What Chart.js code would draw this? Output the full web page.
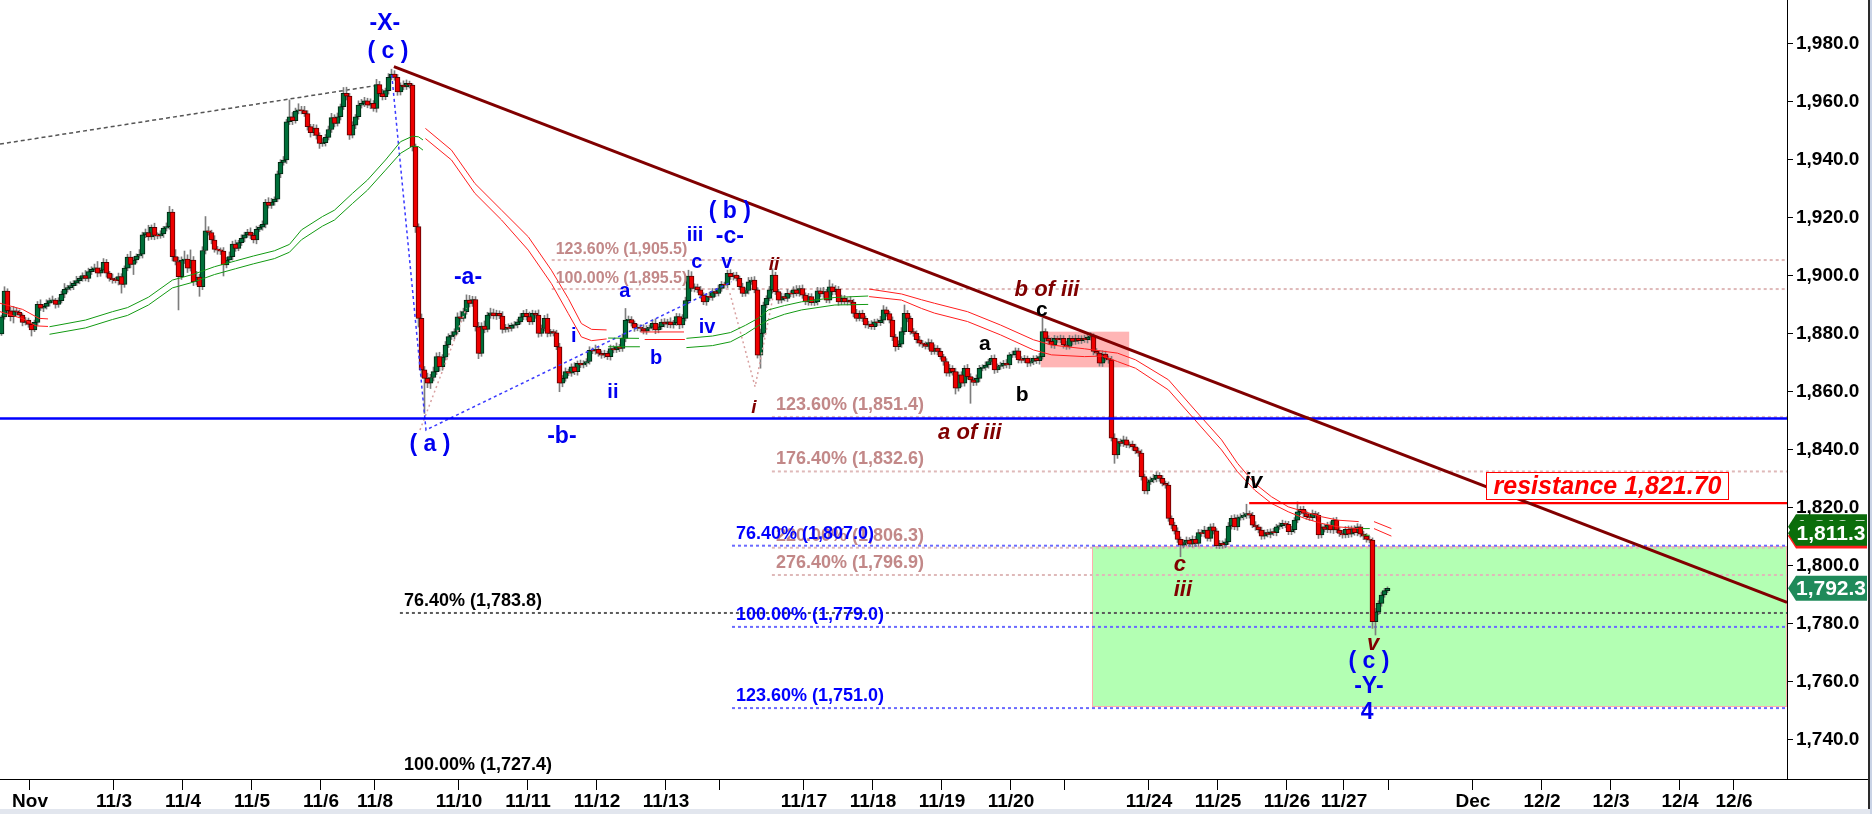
<!DOCTYPE html>
<html><head><meta charset="utf-8">
<style>html,body{margin:0;padding:0;background:#fff;overflow:hidden}canvas{display:block}</style>
<script src="https://cdn.jsdelivr.net/npm/chart.js@4/dist/chart.umd.min.js"></script>
</head><body>
<canvas id="c" width="1872" height="814" style="width:1872px;height:814px"></canvas>
<script>
// ---------- DATA (hourly gold candles, index = bar number) ----------
const FIRST_OPEN = 1880.0;
const closes = [
1885.9,1894.8,1888.0,1886.0,1888.0,1887.5,1886.5,1884.0,1884.8,1883.3,
1881.4,1884.0,1890.2,1888.9,1889.5,1890.6,1891.5,1891.7,1890.2,1891.5,
1893.7,1895.4,1896.0,1896.7,1897.5,1898.4,1899.2,1900.1,1899.2,1901.5,
1902.3,1902.8,1901.0,1902.0,1904.7,1901.0,1899.2,1898.7,1898.4,1899.8,
1897.1,1902.7,1906.5,1904.0,1905.5,1906.9,1907.5,1914.2,1915.0,1913.5,
1916.8,1914.0,1913.8,1914.5,1916.5,1917.0,1922.0,1906.7,1905.0,1899.8,
1905.5,1905.8,1902.7,1905.5,1898.0,1899.6,1896.3,1908.8,1915.6,1915.0,
1912.4,1909.2,1909.0,1908.6,1903.8,1905.5,1906.7,1911.0,1909.5,1911.5,
1913.0,1914.2,1915.1,1914.0,1912.4,1916.1,1916.8,1917.8,1925.4,1924.3,
1925.5,1926.5,1935.2,1939.2,1940.0,1953.2,1954.9,1953.6,1956.9,1957.3,
1957.0,1956.0,1951.5,1949.4,1951.0,1948.5,1945.7,1946.0,1947.8,1950.5,
1954.6,1952.6,1954.9,1958.4,1963.0,1962.0,1948.6,1952.0,1954.9,1958.9,
1959.5,1960.4,1958.9,1959.5,1957.8,1966.0,1962.9,1961.8,1963.9,1968.5,
1969.6,1968.5,1963.5,1965.8,1965.2,1966.4,1965.8,1944.6,1917.0,1885.4,
1867.6,1864.7,1863.0,1865.0,1867.0,1872.2,1868.7,1872.0,1876.2,1879.1,
1879.5,1880.8,1885.9,1885.4,1887.7,1891.7,1890.5,1891.9,1882.5,1873.3,
1882.7,1881.6,1886.5,1887.3,1886.2,1887.1,1886.2,1881.6,1882.3,1881.9,
1883.0,1883.2,1884.2,1885.9,1887.1,1886.0,1884.2,1887.1,1886.5,1880.2,
1881.9,1885.4,1880.2,1880.8,1880.4,1875.6,1863.0,1864.7,1867.0,1866.5,
1868.7,1867.0,1869.9,1869.3,1869.9,1870.5,1874.4,1874.2,1874.7,1873.3,
1872.7,1873.3,1872.2,1875.0,1874.5,1875.6,1875.0,1878.5,1884.8,1885.0,
1883.7,1882.0,1882.3,1881.9,1881.0,1881.9,1882.3,1883.7,1881.4,1882.5,
1884.1,1883.4,1884.2,1883.1,1883.9,1886.0,1883.1,1885.4,1891.5,1900.0,
1895.7,1896.3,1895.2,1893.4,1891.1,1893.0,1892.6,1894.6,1894.0,1895.7,
1897.1,1896.9,1900.9,1899.8,1900.3,1899.2,1896.3,1894.0,1895.0,1898.0,
1898.6,1895.2,1872.7,1880.2,1890.0,1892.3,1895.2,1900.3,1894.6,1891.7,
1892.9,1892.3,1894.0,1893.8,1895.2,1894.0,1895.7,1893.4,1891.1,1892.9,
1890.8,1891.1,1894.9,1893.8,1894.6,1891.7,1896.3,1894.6,1895.5,1891.1,
1892.3,1891.1,1891.7,1891.0,1887.1,1885.4,1887.1,1885.4,1883.1,1883.4,
1882.5,1884.2,1883.9,1884.8,1888.3,1887.0,1884.8,1879.0,1875.6,1876.5,
1880.8,1887.1,1885.4,1880.8,1880.2,1878.0,1876.8,1876.5,1875.7,1877.0,
1874.0,1875.1,1874.0,1872.2,1870.5,1866.5,1868.2,1867.0,1861.3,1865.9,
1863.0,1868.2,1865.3,1864.2,1863.3,1864.7,1868.2,1868.5,1869.3,1870.5,
1871.6,1867.6,1868.8,1869.2,1869.9,1869.3,1872.8,1872.9,1874.2,1871.1,
1871.0,1871.6,1869.9,1870.5,1871.6,1870.8,1872.2,1880.8,1878.5,1877.5,
1876.2,1878.5,1878.0,1878.5,1876.2,1875.7,1878.5,1877.4,1878.5,1877.7,
1878.5,1878.0,1878.9,1879.3,1874.0,1873.4,1869.9,1873.1,1871.6,1871.1,
1844.1,1838.3,1842.9,1842.3,1843.5,1841.7,1842.0,1841.1,1839.7,1838.9,
1830.8,1825.9,1829.0,1829.7,1830.2,1831.3,1830.2,1828.5,1827.9,1816.4,
1814.1,1812.0,1809.2,1807.2,1808.1,1808.9,1807.5,1809.2,1807.8,1811.5,
1811.2,1812.4,1809.5,1813.5,1812.1,1807.0,1807.8,1807.3,1808.3,1813.8,
1816.4,1813.5,1816.7,1816.9,1817.5,1818.1,1817.5,1814.1,1813.5,1812.4,
1810.3,1811.5,1810.9,1811.8,1811.5,1813.5,1813.9,1814.7,1814.4,1811.8,
1812.5,1815.8,1818.7,1819.5,1818.1,1817.0,1816.7,1818.1,1817.5,1810.7,
1813.5,1812.6,1814.1,1812.4,1815.8,1812.4,1811.2,1810.7,1812.6,1811.0,
1812.9,1811.5,1813.5,1811.0,1810.3,1809.2,1808.9,1780.8,1784.2,1787.1,
1790.0,1791.5,1792.3];
// wick lengths above / below the candle body (price units)
const upWick = [
0.6,1.5,0.8,1.2,1.5,1.0,0.8,0.5,0.9,0.7, 0.5,0.8,1.0,1.6,0.7,1.2,0.9,1.4,0.6,1.0,
1.1,2.0,0.8,1.3,0.9,1.5,0.7,1.0,1.8,1.2, 0.9,1.3,2.2,0.8,1.3,1.0,0.6,1.5,0.9,1.2,
1.0,0.8,1.0,2.0,1.1,0.7,1.6,0.9,1.2,2.5, 0.8,1.4,0.9,1.1,0.6,1.3,2.0,1.0,2.4,1.5,
1.1,2.8,1.5,3.5,1.2,2.0,1.0,1.3,4.9,1.4, 0.8,1.5,1.0,0.7,1.2,0.9,1.6,1.0,1.4,0.8,
1.2,0.9,1.0,1.5,0.8,1.1,0.7,1.2,1.0,1.6, 1.3,0.8,1.0,0.9,1.2,0.8,5.8,1.5,1.0,2.1,
1.2,1.5,1.0,0.8,1.3,1.1,0.9,1.4,1.0,1.2, 1.5,1.0,1.3,0.9,2.0,2.1,1.0,1.2,0.8,1.5,
1.4,1.2,0.9,1.6,1.0,1.8,1.1,1.5,0.9,1.3, 1.7,1.2,1.0,0.8,1.5,1.2,0.8,0.5,0.9,1.0,
1.5,1.2,1.8,1.1,1.6,1.3,1.5,0.9,1.2,1.0, 1.3,1.0,1.4,2.0,1.2,1.8,1.6,1.1,1.0,1.5,
1.2,1.8,1.0,1.6,1.3,1.1,0.9,1.5,1.0,1.2, 0.8,1.1,0.9,1.2,1.0,1.4,1.6,1.1,0.9,1.8,
1.2,1.0,1.5,0.8,0.7,0.9,1.2,1.0,1.3,0.9, 1.0,1.4,0.8,1.1,0.9,1.0,1.2,0.8,1.5,1.0,
0.9,1.1,0.8,1.2,1.0,1.3,0.8,1.5,4.0,1.2, 1.0,0.8,1.1,0.9,1.3,1.0,0.8,1.2,1.5,0.9,
1.0,1.2,0.9,1.4,0.8,1.1,1.0,1.3,1.2,2.0, 1.5,1.0,0.9,1.2,0.8,1.0,1.4,1.1,0.9,1.2,
1.0,0.8,1.1,1.3,0.9,1.0,0.8,1.2,0.9,1.5, 1.0,1.2,0.8,1.5,1.0,0.9,1.2,2.2,1.0,0.8,
1.2,1.0,1.4,0.9,1.1,1.5,1.0,1.2,0.8,1.1, 1.0,0.9,1.2,1.0,1.5,0.8,2.3,1.0,1.2,0.9,
1.1,1.0,0.8,1.2,1.0,1.4,0.9,1.1,0.8,1.0, 1.2,0.9,1.0,1.3,1.5,1.0,0.8,1.1,0.9,1.2,
1.4,2.9,1.0,0.8,1.1,0.9,1.2,1.0,0.8,1.3, 1.0,1.2,0.9,1.1,0.8,1.0,1.3,0.9,1.2,1.0,
1.1,0.9,1.3,1.0,0.8,1.2,1.0,0.9,1.1,0.8, 1.0,1.2,0.9,1.1,1.0,1.3,0.8,1.2,1.0,0.9,
1.1,1.0,0.8,1.2,0.9,1.0,1.1,4.6,1.0,0.9, 1.2,1.0,0.8,1.1,0.9,1.3,1.0,0.8,1.2,1.0,
0.9,1.1,1.0,1.2,0.8,1.0,0.9,1.1,1.0,0.8, 1.2,1.5,1.0,0.9,1.3,1.0,0.8,1.1,0.9,1.0,
1.2,0.9,1.1,1.0,1.4,1.2,0.9,1.0,0.8,1.1, 0.9,1.0,1.2,0.8,1.0,1.1,0.9,1.2,1.0,1.1,
1.0,1.3,0.9,1.0,1.2,0.8,1.0,0.9,1.1,1.2, 1.0,1.3,0.9,1.1,1.0,3.2,0.9,1.0,1.2,0.8,
1.0,0.9,1.1,1.0,1.2,0.9,1.0,1.1,0.8,1.0, 1.2,0.9,3.4,1.0,1.1,0.9,1.0,1.2,0.8,1.0,
1.1,0.9,1.0,1.2,0.8,1.0,0.9,1.1,1.0,1.2, 0.9,1.0,1.1,0.8,1.0,0.9,1.0,0.8,1.2,0.9,
1.0,0.8,0.5];
const dnWick = [
0.5,0.8,1.0,1.5,2.2,1.0,0.8,1.2,0.9,1.0, 2.1,0.6,1.0,0.8,1.2,0.9,1.0,0.7,1.3,1.0,
0.8,1.2,1.0,0.9,1.4,0.8,1.1,1.0,0.9,1.2, 1.0,0.8,1.3,1.1,0.9,1.4,1.0,1.2,0.8,1.5,
3.0,1.0,0.9,1.2,3.5,1.0,0.8,1.3,1.0,1.2, 0.9,1.5,1.0,0.8,1.2,1.0,0.9,1.5,1.2,11.5,
1.0,1.2,1.5,1.0,1.3,1.1,3.3,1.0,1.2,0.9, 1.3,1.0,1.5,1.2,3.8,1.0,0.9,1.2,1.0,0.8,
1.0,1.2,0.9,1.1,1.0,1.3,0.8,1.0,1.2,0.9, 1.0,1.1,0.9,1.3,1.0,1.2,1.0,1.4,0.9,1.0,
1.1,1.0,1.2,1.5,1.0,1.3,1.7,1.0,1.2,0.9, 1.0,1.2,0.9,1.1,1.0,1.3,1.5,1.0,1.2,0.9,
1.0,1.1,0.9,1.2,1.0,1.3,0.9,1.1,1.0,1.2, 0.9,1.0,1.2,1.1,1.0,0.9,1.0,1.5,2.0,3.0,
2.5,12.1,1.5,1.8,1.2,1.0,1.5,1.2,1.0,0.9, 1.0,1.2,0.8,1.1,1.0,0.9,1.2,1.0,1.5,1.8,
1.0,1.2,0.9,1.1,1.0,1.2,0.9,1.3,1.0,1.2, 0.9,1.0,1.1,0.8,1.0,1.2,1.0,0.9,1.1,1.3,
1.0,0.9,1.2,1.0,1.1,1.0,2.9,1.2,1.0,0.9, 1.1,1.0,1.2,0.9,1.0,1.1,0.9,1.0,1.2,1.0,
1.1,0.9,1.0,1.2,1.0,0.9,1.1,1.0,1.2,0.9, 1.0,1.1,0.9,1.2,1.0,1.1,0.9,1.0,1.3,1.0,
0.9,1.0,1.2,1.0,1.1,0.9,1.3,1.0,0.9,1.1, 1.0,1.2,0.9,1.1,1.0,1.2,0.9,1.0,1.1,0.9,
1.0,1.1,0.9,1.0,1.2,0.9,1.0,1.1,1.0,1.2, 0.9,1.0,1.0,4.5,1.2,1.0,0.9,1.1,1.0,1.2,
1.0,0.9,1.1,1.0,1.2,0.9,1.0,1.1,1.0,1.2, 0.9,1.0,1.1,1.0,1.2,0.9,1.0,1.1,1.0,1.2,
1.0,0.9,1.1,1.0,1.2,1.0,0.9,1.1,1.0,1.2, 0.9,1.0,1.1,1.0,1.2,0.9,1.0,1.3,1.5,1.0,
1.1,1.0,1.2,0.9,1.0,1.1,1.0,1.2,0.9,1.0, 1.1,1.0,1.2,0.9,1.3,1.0,1.1,1.2,2.0,1.0,
1.2,1.0,0.9,8.1,1.1,1.0,1.2,0.9,1.0,1.1, 1.0,1.2,0.9,1.0,1.1,1.0,1.2,0.9,1.0,1.1,
1.0,0.9,1.2,1.0,1.1,1.0,1.2,0.9,1.0,1.1, 1.0,1.2,0.9,1.0,1.1,1.0,0.9,1.2,1.0,1.1,
1.0,0.9,1.1,1.0,1.2,0.9,1.0,1.1,1.0,1.2, 1.0,2.9,1.2,1.0,1.1,0.9,1.0,1.2,1.0,1.1,
1.2,1.0,1.1,0.9,1.0,1.2,1.0,0.9,1.1,1.0, 1.2,1.0,1.1,4.0,1.0,1.2,0.9,1.0,1.1,1.0,
1.0,1.2,0.9,1.0,1.1,0.9,1.0,1.2,1.0,0.9, 1.1,1.0,1.2,0.9,1.0,1.1,1.0,0.9,1.2,1.0,
1.1,1.0,0.9,1.2,1.0,1.1,0.9,1.0,1.2,1.0, 1.0,1.1,0.9,1.0,1.2,0.9,1.0,1.1,1.0,1.2,
1.0,0.9,1.1,1.0,1.2,0.9,1.0,1.1,1.0,1.2, 1.0,0.9,1.1,1.0,1.2,1.0,0.9,2.3,4.6,1.0,
1.0,0.8,0.7];

// x-axis ticks (bar-number positions of session starts) and their labels
const xTickPos = [9.5,37.5,60.5,83.5,106.5,124.5,152.5,175.5,198.5,221.5,239.5,267.5,290.5,313.5,336.5,354.5,382.5,405.5,428.5,447.5,462.5,490.5,513.5,536.5,559.5,577.5];
const xTickLabels = ['Nov','11/3','11/4','11/5','11/6','11/8','11/10','11/11','11/12','11/13','','11/17','11/18','11/19','11/20','','11/24','11/25','11/26','11/27','','Dec','12/2','12/3','12/4','12/6'];
const yTicks = [1740,1760,1780,1800,1820,1840,1860,1880,1900,1920,1940,1960,1980];
const X_MIN = -0.5, X_MAX = 595.17, Y_MIN = 1726.55, Y_MAX = 1995.17;

// trend bands (two-line envelope, red when bearish / green when bullish): [bar, price]
const bandR1Up = [[-0.5,1890.6],[7,1888.5],[12.5,1885.4],[15.5,1885.2]];
const bandR1Lo = [[-0.5,1887.7],[7,1885.3],[11.5,1882.8],[15.5,1882.6]];
const bandG1Up = [[16,1882.5],[28,1884.8],[37,1887.7],[42,1889.1],[49,1892.7],[57,1898.6],[64,1900.6],[71,1903.2],[78,1905.2],[84,1906.9],[91,1908.7],[96,1910.9],[100,1915.9],[107,1920.5],[111,1922.7],[117,1928.5],[122,1933.1],[128,1940.0],[133,1946.3],[137,1948.2],[139,1948.0],[140.5,1946.9]];
const bandG1Lo = [[16,1879.9],[28,1882.1],[37,1885.0],[42,1886.4],[49,1890.0],[57,1895.9],[64,1897.9],[71,1900.5],[78,1902.5],[84,1904.2],[91,1906.0],[96,1908.2],[100,1912.5],[107,1917.2],[111,1919.3],[117,1925.0],[122,1929.6],[128,1936.5],[133,1942.3],[137,1944.8],[139,1944.6],[140.5,1943.4]];
const bandR2Up = [[141.3,1950.9],[150,1943.4],[157.8,1931.9],[166.7,1922.7],[175.6,1913.5],[183.3,1902.0],[188.9,1892.3],[193.3,1883.6],[196.7,1881.6],[201.7,1881.4]];
const bandR2Lo = [[141.3,1947.4],[150,1940.0],[157.8,1928.5],[166.7,1919.3],[175.6,1908.9],[183.3,1897.4],[188.9,1887.1],[193.3,1879.0],[196.7,1877.7],[201.7,1878.3]];
const bandG2Up = [[202.2,1878.6],[212.5,1878.5]];
const bandG2Lo = [[202.2,1875.6],[212.8,1875.6]];
const bandR3Up = [[213.1,1880.7],[227.5,1880.7]];
const bandR3Lo = [[214.4,1878.1],[227.8,1878.1]];
const bandG3Up = [[228.3,1878.5],[237,1879.3],[243,1880.5],[248,1883.0],[252.2,1885.4],[255.6,1888.3],[261,1889.8],[266.7,1891.1],[277.8,1892.6],[288.9,1893.1]];
const bandG3Lo = [[228.3,1875.3],[237,1876.0],[243,1877.3],[248,1880.0],[252.2,1882.8],[255.6,1884.8],[261,1886.8],[266.7,1888.3],[277.8,1890.0],[288.9,1890.2]];
const bandR4Up = [[289.2,1895.5],[300,1893.8],[306.7,1891.8],[311,1890.6],[322,1887.7],[333,1883.1],[344,1878.0],[350,1876.2],[361,1874.9],[372,1873.4],[378,1871.1],[389,1864.2],[397.8,1853.8],[406.7,1843.5],[412,1835.4],[417.7,1828.5],[423.3,1823.9],[428.9,1820.4],[434.4,1818.7],[440,1817.0],[445.5,1815.8],[452.4,1815.3]];
const bandR4Lo = [[289.2,1892.9],[300,1891.7],[306.7,1888.8],[311,1887.2],[322,1884.3],[333,1879.7],[344,1874.5],[350,1872.8],[361,1872.2],[367,1872.4],[372,1870.5],[378,1868.2],[389,1860.7],[397.8,1850.4],[406.7,1840.0],[412,1832.5],[417.7,1826.2],[423.3,1821.6],[428.9,1818.7],[434.4,1816.4],[440,1814.7],[445.5,1813.5],[452.4,1812.9]];
const bandG4Up = [[453.3,1812.9],[456.1,1812.9]];
const bandG4Lo = [[454,1810.6],[456.1,1810.6]];
const bandR5Up = [[457.5,1815.3],[463.3,1812.9]];
const bandR5Lo = [[457.5,1812.9],[463.3,1810.3]];

// drawn lines: [bar, price]
const trendLine = [[130.8,1972.2],[595.17,1787.5]];
const oldTrend = [[-0.5,1945.5],[126.2,1965.9]];
const supportLevel = 1850.9;
const resLevel = 1821.7, resStartK = 415.9;
const resText = 'resistance 1,821.70';
const resBoxK = [494.8,575.8], resBoxV = [1822.8,1832.4];
const waveLineBlue = [[130.1,1969.3],[141.5,1846.9],[243.4,1898.0]];
const waveLinePinkA = [[139.5,1846.9],[155,1889.0]];
const waveLinePinkB = [[242.8,1894.1],[251.2,1861.8],[257.2,1892.9]];

// fibonacci levels
const fibPinkLevels = [1905.5,1895.5,1851.4,1832.6,1806.3,1796.9];
const fibPinkLabels = ['123.60% (1,905.5)','100.00% (1,895.5)','123.60% (1,851.4)','176.40% (1,832.6)','220.00% (1,806.3)','276.40% (1,796.9)'];
const fibPinkStart = [183.4,183.4,256.8,256.8,256.8,256.8];
const fibBlueLevels = [1807.0,1779.0,1751.0];
const fibBlueLabels = ['76.40% (1,807.0)','100.00% (1,779.0)','123.60% (1,751.0)'];
const fibBlueStart = 243.5;
const fibBlackLevels = [1783.8,1727.4];
const fibBlackLabels = ['76.40% (1,783.8)','100.00% (1,727.4)'];
const fibBlackStart = 132.8;

// target zone and consolidation box
const zoneStartK = 363.5, zoneTop = 1807.0, zoneBottom = 1751.3;
const boxK = [346.4,375.9], boxV = [1868.5,1880.8];

// Elliott wave labels
const waveText = ['-X-','( c )','-a-','( a )','-b-','i','ii','a','b','iv','c','iii','v','-c-','( b )','ii','i','b of iii','a of iii','a','b','c','c','iii','iv','v','( c )','-Y-','4'];
const waveK = [127.8,128.8,155.5,142.8,186.8,190.8,203.8,207.8,218.2,235.2,231.8,231.2,241.8,242.8,242.8,257.5,250.8,348.5,322.8,327.8,340.2,346.8,392.8,393.8,417.2,457.2,455.8,455.8,455.2];
const waveV = [1986.9,1977.2,1899.3,1841.7,1844.5,1879.3,1860.0,1894.8,1871.7,1882.4,1904.8,1914.1,1904.5,1913.4,1922.1,1903.8,1854.5,1895.2,1845.9,1876.6,1859.0,1888.3,1800.3,1791.7,1829.0,1773.1,1766.9,1758.3,1749.3];
const waveDegree = ['B','B','B','B','B','b','b','b','b','b','b','b','b','B','B','r','r','R','R','k','k','k','R','R','K','R','B','B','B'];

// right-axis value tags
const tagValues = [1810.3,1813.5,1811.3,1792.3];
const tagTexts = ['','1,813.5','1,811.3','1,792.3'];

// ---------- BUILD ----------
const FONT = '"Liberation Sans", Arial, Helvetica, sans-serif';
const opens = closes.map((c,i)=> i===0 ? FIRST_OPEN : closes[i-1]);
const highs = closes.map((c,i)=> Math.max(opens[i],c) + upWick[i]);
const lows  = closes.map((c,i)=> Math.min(opens[i],c) - dnWick[i]);
const wickData = closes.map((c,i)=>({x:i, y:[lows[i], highs[i]]}));
const upData = [], dnData = [];
closes.forEach((c,i)=>{
  const o = opens[i];
  let lo = Math.min(o,c), hi = Math.max(o,c);
  if (hi - lo < 0.35) { const m=(hi+lo)/2; lo = m-0.18; hi = m+0.18; }
  (c >= o ? upData : dnData).push({x:i, y:[lo,hi]});
});
const P = a => a.map(p=>({x:p[0], y:p[1]}));
function lineDS(pts, color, width, dash, order){
  return {type:'line', data:P(pts), borderColor:color, borderWidth:width, borderDash:dash||[], pointRadius:0, pointHoverRadius:0, fill:false, tension:0, order:order};
}
const RED='#ff1e1e', GRN='#129a12';
const datasets = [
  lineDS(trendLine,'#800000',3,null,0),
  lineDS([[X_MIN,supportLevel],[X_MAX,supportLevel]],'#0000ff',2.5,null,0),
  lineDS([[resStartK,resLevel],[X_MAX,resLevel]],'#ff0000',2.2,null,0),
  lineDS(bandR1Up,RED,1,null,1), lineDS(bandR1Lo,RED,1,null,1),
  lineDS(bandG1Up,GRN,1,null,1), lineDS(bandG1Lo,GRN,1,null,1),
  lineDS(bandR2Up,RED,1,null,1), lineDS(bandR2Lo,RED,1,null,1),
  lineDS(bandG2Up,GRN,1,null,1), lineDS(bandG2Lo,GRN,1,null,1),
  lineDS(bandR3Up,RED,1,null,1), lineDS(bandR3Lo,RED,1,null,1),
  lineDS(bandG3Up,GRN,1,null,1), lineDS(bandG3Lo,GRN,1,null,1),
  lineDS(bandR4Up,RED,1,null,1), lineDS(bandR4Lo,RED,1,null,1),
  lineDS(bandG4Up,GRN,1,null,1), lineDS(bandG4Lo,GRN,1,null,1),
  lineDS(bandR5Up,RED,1,null,1), lineDS(bandR5Lo,RED,1,null,1),
  lineDS(waveLineBlue,'#3a3aff',1.5,[3,3],1),
  lineDS(waveLinePinkA,'#d8a0a0',1.5,[2,3],1),
  lineDS(waveLinePinkB,'#d8a0a0',1.5,[2,3],1),
  {type:'bar', data:dnData, backgroundColor:'#ee0000', borderColor:'#5a0000', borderWidth:1, borderSkipped:false, barThickness:5, grouped:false, order:2},
  {type:'bar', data:upData, backgroundColor:'#006f3a', borderColor:'#00240f', borderWidth:1, borderSkipped:false, barThickness:5, grouped:false, order:2},
  {type:'bar', data:wickData, backgroundColor:'#7d7d7d', borderWidth:0, barThickness:1, grouped:false, order:3},
  lineDS(oldTrend,'#555555',1.5,[4,3],4)
];
fibPinkLevels.forEach((v,i)=> datasets.push(lineDS([[fibPinkStart[i],v],[X_MAX,v]],'#dfb9b9',2,[3,3],4)));
fibBlueLevels.forEach(v=> datasets.push(lineDS([[fibBlueStart,v],[X_MAX,v]],'#6a6aff',2,[3,3],4)));
// the lowest black level sits on the axis; only its first level gets a visible line
datasets.push(lineDS([[fibBlackStart,fibBlackLevels[0]],[X_MAX,fibBlackLevels[0]]],'#5a5a5a',2,[3,3],4));

const degreeStyle = {
  B:{c:'#0000f0', f:'bold 23px'}, b:{c:'#0000f0', f:'bold 20px'},
  r:{c:'#800000', f:'italic bold 19px'}, R:{c:'#800000', f:'italic bold 22px'},
  k:{c:'#000000', f:'bold 21px'}, K:{c:'#000000', f:'italic bold 22px'}
};

const overlay = {
  id:'overlay',
  beforeDatasetsDraw(chart){
    const {ctx, chartArea, scales:{x,y}} = chart;
    ctx.save();
    const zx0 = Math.round(x.getPixelForValue(zoneStartK)), zx1 = chartArea.right;
    const zy0 = Math.round(y.getPixelForValue(zoneTop)), zy1 = Math.round(y.getPixelForValue(zoneBottom));
    ctx.fillStyle = '#b3ffb3'; ctx.fillRect(zx0, zy0, zx1-zx0, zy1-zy0);
    ctx.strokeStyle = '#ffadad'; ctx.lineWidth = 1; ctx.strokeRect(zx0+0.5, zy0+0.5, zx1-zx0-1, zy1-zy0-1);
    const bx0 = x.getPixelForValue(boxK[0]), bx1 = x.getPixelForValue(boxK[1]);
    const by0 = y.getPixelForValue(boxV[1]), by1 = y.getPixelForValue(boxV[0]);
    ctx.fillStyle = 'rgba(255,120,120,0.55)'; ctx.fillRect(bx0, by0, bx1-bx0, by1-by0);
    ctx.restore();
  },
  afterDatasetsDraw(chart){
    const {ctx, scales:{x,y}} = chart;
    ctx.save();
    ctx.textAlign='left'; ctx.textBaseline='alphabetic';
    const fibText = (k,v,t,color,size)=>{
      ctx.font = `bold ${size}px ${FONT}`; ctx.fillStyle = color;
      ctx.fillText(t, x.getPixelForValue(k)+4, y.getPixelForValue(v)-(size<17?6:7));
    };
    fibPinkLevels.forEach((v,i)=> fibText(fibPinkStart[i], v, fibPinkLabels[i], '#c28888', i<2?16:18));
    fibBlueLevels.forEach((v,i)=> fibText(fibBlueStart, v, fibBlueLabels[i], '#0000ff', 18));
    fibBlackLevels.forEach((v,i)=> fibText(fibBlackStart, v, fibBlackLabels[i], '#000000', 18));
    // wave labels
    ctx.textAlign='center'; ctx.textBaseline='middle';
    waveText.forEach((t,i)=>{
      const s = degreeStyle[waveDegree[i]];
      ctx.font = `${s.f} ${FONT}`; ctx.fillStyle = s.c;
      ctx.fillText(t, x.getPixelForValue(waveK[i]), y.getPixelForValue(waveV[i]));
    });
    // resistance label
    const rx0 = Math.round(x.getPixelForValue(resBoxK[0])), rx1 = Math.round(x.getPixelForValue(resBoxK[1]));
    const ry0 = Math.round(y.getPixelForValue(resBoxV[1])), ry1 = Math.round(y.getPixelForValue(resBoxV[0]));
    ctx.fillStyle='#ffffff'; ctx.fillRect(rx0, ry0, rx1-rx0, ry1-ry0);
    ctx.strokeStyle='#ff0000'; ctx.lineWidth=1; ctx.strokeRect(rx0+0.5, ry0+0.5, rx1-rx0-1, ry1-ry0-1);
    ctx.font = `italic bold 25px ${FONT}`; ctx.fillStyle='#ff0000';
    const tw = ctx.measureText(resText).width, avail = rx1 - rx0 - 6;
    const cx = (rx0+rx1)/2, cy = (ry0+ry1)/2+1;
    ctx.save(); ctx.translate(cx, cy); if (tw > avail) ctx.scale(avail/tw, 1);
    ctx.fillText(resText, 0, 0); ctx.restore();
    ctx.restore();
  },
  afterDraw(chart){
    const {ctx, chartArea, scales:{y}} = chart;
    ctx.save();
    const ax = chartArea.right;
    ctx.fillStyle='#000'; ctx.fillRect(ax, chartArea.bottom, 1868-ax, 1);
    ctx.fillStyle='#2a2a2a'; ctx.fillRect(1868, 0, 2, 809);
    ctx.fillStyle='#c9d3e6'; ctx.fillRect(1870, 0, 2, 814);
    ctx.fillStyle='#e2e6ee'; ctx.fillRect(0, 809, 1870, 5);
    const fills = ['#ff1a1a','#0b6b0b','#0b6e0b','#1f8a5a'];
    tagValues.forEach((v,i)=>{
      const py = y.getPixelForValue(v), h = 12.5;
      ctx.beginPath(); ctx.moveTo(ax+1, py); ctx.lineTo(ax+9, py-h); ctx.lineTo(1867, py-h); ctx.lineTo(1867, py+h); ctx.lineTo(ax+9, py+h); ctx.closePath();
      ctx.fillStyle = fills[i]; ctx.fill();
      if (tagTexts[i]) {
        ctx.font = `bold 21px ${FONT}`; ctx.fillStyle='#ffffff'; ctx.textAlign='center'; ctx.textBaseline='middle';
        ctx.fillText(tagTexts[i], 1831, py+1);
      }
    });
    ctx.restore();
  }
};

new Chart(document.getElementById('c'), {
  type:'bar',
  data:{datasets},
  options:{
    responsive:false, animation:false, devicePixelRatio:1,
    layout:{padding:0},
    events:[],
    plugins:{legend:{display:false}, tooltip:{enabled:false}, title:{display:false}},
    scales:{
      x:{type:'linear', min:X_MIN, max:X_MAX, offset:false,
         grid:{display:true, drawOnChartArea:false, drawTicks:true, tickLength:11, color:'#000', offset:false},
         border:{display:true, color:'#000', width:1},
         ticks:{autoSkip:false, maxRotation:0, minRotation:0, padding:0, color:'#000', font:{family:FONT, size:19, weight:'bold'}, callback:(v,i)=> xTickLabels[i]},
         afterBuildTicks:s=>{ s.ticks = xTickPos.map(v=>({value:v})); },
         afterFit:s=>{ s.height = 35; s.paddingLeft=0; s.paddingRight=0; s.paddingTop=0; s.paddingBottom=0; }
      },
      y:{type:'linear', position:'right', min:Y_MIN, max:Y_MAX, beginAtZero:false,
         grid:{display:true, drawOnChartArea:false, drawTicks:true, tickLength:6, color:'#000'},
         border:{display:true, color:'#000', width:1},
         ticks:{padding:3, color:'#000', font:{family:FONT, size:19, weight:'bold'}, callback:v=> v.toLocaleString('en-US',{minimumFractionDigits:1, maximumFractionDigits:1})},
         afterBuildTicks:s=>{ s.ticks = yTicks.map(v=>({value:v})); },
         afterFit:s=>{ s.width = 85; s.paddingLeft=0; s.paddingRight=0; s.paddingTop=0; s.paddingBottom=0; }
      }
    }
  },
  plugins:[overlay]
});
</script>
</body></html>
